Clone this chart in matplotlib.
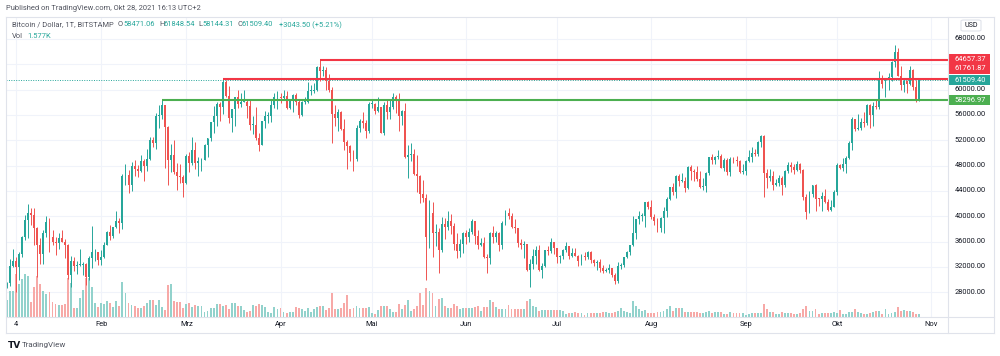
import matplotlib
matplotlib.use('Agg')
import matplotlib.pyplot as plt
from matplotlib.patches import Rectangle, FancyBboxPatch
from matplotlib.lines import Line2D
from matplotlib.transforms import blended_transform_factory, offset_copy
import numpy as np

plt.rcParams['font.family'] = ['Roboto', 'DejaVu Sans']

# ---------------- data (BTC/USD daily, values in thousand USD) ----------------
start_date = '2021-01-01'   # day index 0
opens = [
    # Jan
    29.0, 29.4, 32.2, 33.0, 32.0, 34.0, 36.8, 39.4, 40.6, 40.2, 38.2, 35.5, 34.0, 37.3, 39.1, 36.8,
    36.0, 35.8, 36.6, 35.9, 35.5, 30.8, 33.0, 32.1, 32.3, 32.3, 32.5, 30.4, 33.4, 34.3, 34.3,
    # Feb
    33.1, 33.5, 35.5, 37.6, 36.9, 38.3, 39.2, 38.9, 46.4, 46.5, 44.9, 47.9, 47.4, 47.2, 48.7, 47.9,
    49.1, 52.1, 51.6, 55.9, 56.0, 57.5, 54.1, 48.9, 49.7, 47.0, 46.3, 46.2,
    # Mar
    45.2, 49.6, 48.4, 50.4, 48.4, 48.8, 48.9, 51.2, 52.3, 54.9, 55.9, 57.8, 57.2, 61.2, 59.0, 55.6,
    56.9, 58.9, 57.7, 58.1, 58.1, 57.4, 54.4, 54.4, 52.3, 51.3, 55.1, 55.8, 55.8, 57.6, 58.8,
    # Apr
    58.8, 58.7, 59.0, 57.1, 58.2, 59.1, 58.0, 56.0, 58.1, 58.1, 59.8, 59.8, 59.9, 63.5, 62.9, 63.1,
    61.3, 60.0, 56.1, 55.6, 56.4, 53.8, 51.7, 51.1, 50.0, 49.0, 54.0, 55.0, 54.8, 53.5,
    # May
    57.7, 57.8, 56.6, 57.2, 53.2, 57.5, 56.4, 57.3, 58.8, 58.2, 55.8, 56.7, 49.4, 49.7, 49.9, 46.7,
    46.4, 43.5, 42.9, 36.7, 40.6, 37.3, 37.5, 34.7, 38.8, 38.3, 39.3, 38.5, 35.7, 34.6, 35.7,
    # Jun
    37.3, 36.7, 37.6, 39.2, 36.9, 35.5, 35.8, 33.6, 33.4, 37.4, 36.7, 37.3, 35.5, 39.0, 40.5, 40.1,
    38.3, 38.1, 35.8, 35.5, 35.6, 31.6, 32.5, 33.7, 34.7, 31.6, 32.2, 34.7, 34.5, 35.9,
    # Jul
    35.0, 33.5, 33.8, 34.7, 35.3, 33.7, 34.2, 33.8, 32.9, 33.8, 33.5, 34.3, 33.1, 32.7, 32.8, 31.8,
    31.4, 31.5, 31.8, 30.8, 29.8, 32.1, 32.3, 33.6, 34.3, 35.4, 37.3, 39.5, 40.0, 40.0, 42.2,
    # Aug
    41.5, 39.9, 39.2, 38.2, 39.7, 40.9, 42.8, 44.6, 43.8, 46.3, 45.6, 45.6, 44.4, 47.8, 47.1, 47.0,
    45.9, 44.7, 44.8, 46.8, 49.3, 48.9, 49.3, 49.5, 47.7, 48.9, 47.0, 49.1, 48.9, 48.8, 47.0,
    # Sep
    47.1, 48.8, 49.3, 50.0, 49.9, 51.8, 52.7, 46.9, 46.1, 46.4, 44.9, 45.2, 46.1, 44.9, 47.1, 48.1,
    47.8, 47.3, 48.3, 47.3, 43.0, 40.7, 43.6, 44.9, 42.8, 42.7, 43.2, 42.2, 41.0, 41.5,
    # Oct
    43.8, 48.1, 47.7, 48.2, 49.2, 51.5, 55.3, 53.8, 53.9, 54.9, 54.7, 57.5, 56.0, 57.4, 57.3, 61.7,
    60.9, 61.5, 62.0, 64.3, 66.0, 62.2, 60.7, 61.3, 60.9, 63.1, 60.4, 58.47106,
]
highs = [
    29.6, 33.3, 34.8, 33.6, 34.4, 36.9, 40.2, 41.9, 41.3, 41.3, 38.3, 36.6, 37.8, 40.0, 39.7, 37.9,
    36.8, 37.3, 37.8, 36.4, 35.6, 33.8, 33.5, 32.9, 34.9, 32.8, 32.6, 33.8, 38.5, 34.9, 34.3,
    34.7, 35.9, 37.7, 38.7, 38.3, 40.9, 39.7, 46.7, 48.2, 47.3, 48.6, 48.9, 48.1, 49.7, 49.0, 50.6,
    52.6, 52.5, 56.3, 57.5, 58.3, 57.5, 54.2, 51.4, 52.0, 48.4, 48.3, 46.6,
    49.8, 50.2, 52.6, 51.8, 49.4, 49.2, 51.4, 52.4, 54.9, 57.4, 58.1, 58.0, 61.76, 61.5, 60.6, 56.9,
    58.9, 60.0, 59.5, 59.9, 58.5, 58.4, 55.8, 57.2, 53.2, 55.1, 56.6, 56.5, 58.4, 59.4, 59.8,
    59.5, 60.0, 59.8, 58.5, 59.3, 59.5, 58.6, 58.2, 58.9, 61.2, 60.7, 61.1, 63.8, 64.66, 63.8, 63.5,
    62.5, 60.4, 57.6, 57.0, 56.7, 55.4, 52.1, 51.2, 50.5, 54.4, 55.4, 56.4, 55.2, 58.0,
    58.4, 57.9, 58.9, 57.2, 58.0, 58.3, 58.6, 59.4, 59.2, 59.5, 56.8, 57.9, 51.3, 51.5, 50.6, 49.7,
    46.6, 45.8, 43.5, 42.5, 42.2, 38.8, 38.2, 39.9, 39.8, 40.8, 40.4, 38.9, 37.3, 36.4, 37.5,
    37.9, 38.2, 39.5, 39.3, 37.9, 36.5, 36.8, 34.0, 37.5, 38.4, 37.7, 37.5, 39.3, 41.0, 41.3, 40.5,
    39.5, 38.2, 36.4, 36.1, 35.7, 33.3, 34.8, 35.3, 35.5, 32.7, 34.7, 35.3, 36.6, 36.0,
    35.0, 33.9, 34.9, 35.9, 35.3, 35.0, 35.0, 33.9, 34.1, 34.3, 34.6, 34.6, 33.3, 33.1, 33.2, 32.3,
    31.9, 32.4, 31.9, 31.0, 32.8, 32.6, 33.6, 34.5, 35.4, 40.0, 39.5, 40.9, 40.6, 42.3, 42.4,
    42.6, 40.4, 39.8, 39.9, 41.4, 43.0, 44.7, 45.3, 46.5, 46.7, 46.8, 46.2, 47.9, 48.1, 47.4, 48.0,
    47.1, 46.0, 47.0, 49.4, 49.8, 49.5, 50.5, 49.9, 49.2, 49.2, 49.3, 49.3, 49.6, 48.9, 48.3,
    48.9, 50.4, 51.0, 50.6, 51.9, 52.9, 52.9, 47.4, 47.4, 47.1, 45.9, 46.5, 46.3, 47.3, 48.5, 48.5,
    48.2, 48.8, 48.4, 47.4, 43.6, 44.0, 44.9, 45.1, 42.9, 43.9, 44.3, 42.8, 42.6, 44.1,
    48.4, 48.3, 49.2, 49.5, 51.9, 55.7, 55.3, 56.1, 55.5, 56.5, 57.8, 57.7, 58.0, 58.5, 62.9, 62.3,
    61.7, 62.6, 64.5, 67.0, 66.6, 63.7, 61.7, 61.5, 63.7, 63.3, 61.5, 61.84854,
]
lows = [
    28.7, 29.0, 32.0, 28.1, 29.9, 33.5, 36.3, 36.5, 38.7, 35.4, 30.4, 32.5, 32.4, 36.7, 34.4, 35.4,
    33.9, 34.9, 35.9, 33.4, 30.1, 28.9, 31.4, 30.9, 32.1, 30.8, 29.2, 29.9, 31.9, 32.9, 32.3,
    32.3, 33.4, 35.4, 36.2, 36.6, 38.2, 37.4, 38.0, 45.0, 43.7, 44.0, 46.3, 46.2, 47.0, 45.6, 47.1,
    48.9, 50.9, 50.7, 53.9, 55.4, 47.6, 45.0, 47.0, 46.7, 44.1, 45.3, 43.0,
    45.1, 47.0, 48.1, 47.5, 46.3, 47.1, 48.9, 49.3, 51.9, 53.1, 54.3, 55.0, 56.1, 58.9, 54.7, 53.3,
    54.2, 57.1, 57.2, 58.0, 55.5, 53.7, 53.0, 52.0, 50.3, 51.3, 54.0, 54.7, 54.9, 57.1, 56.9,
    57.9, 58.5, 56.9, 57.0, 56.5, 57.6, 55.5, 55.9, 57.7, 57.9, 59.2, 59.4, 59.8, 61.3, 62.1, 60.0,
    59.6, 51.5, 54.2, 53.5, 53.7, 50.5, 47.5, 48.8, 47.1, 48.8, 53.3, 53.9, 52.4, 53.1,
    57.1, 56.1, 56.5, 53.1, 52.9, 55.3, 55.3, 56.9, 56.3, 53.4, 54.4, 49.2, 46.0, 48.8, 46.6, 43.8,
    42.1, 42.3, 30.0, 35.0, 33.5, 35.3, 31.1, 34.4, 36.4, 37.8, 37.2, 34.7, 33.4, 33.5, 34.2,
    35.7, 35.9, 37.2, 35.6, 34.8, 35.3, 33.4, 31.0, 32.4, 35.8, 35.9, 34.6, 34.8, 38.7, 39.5, 38.1,
    37.4, 35.2, 34.8, 33.4, 31.3, 28.8, 31.7, 32.4, 31.3, 30.2, 32.0, 33.9, 34.2, 34.0,
    32.7, 32.7, 33.3, 34.3, 33.2, 33.5, 33.8, 32.2, 32.3, 33.1, 33.3, 32.7, 32.2, 31.6, 31.2, 31.1,
    31.2, 31.1, 30.4, 29.3, 29.5, 31.7, 32.0, 33.4, 33.9, 35.3, 36.4, 38.8, 39.3, 38.3, 41.1,
    39.5, 38.7, 37.6, 37.5, 37.3, 39.9, 42.5, 43.3, 42.9, 44.8, 45.4, 43.8, 44.3, 45.8, 45.6, 45.5,
    44.4, 44.2, 43.9, 46.6, 48.3, 48.2, 49.0, 47.6, 47.2, 46.5, 46.4, 48.4, 48.0, 46.9, 46.7,
    46.6, 48.6, 48.6, 49.5, 49.5, 50.9, 43.0, 44.5, 45.6, 44.2, 44.8, 44.8, 43.4, 44.7, 46.8, 47.0,
    46.7, 47.1, 46.9, 42.5, 39.6, 40.6, 43.1, 40.9, 41.7, 40.8, 42.1, 40.9, 40.8, 41.4,
    43.3, 47.4, 47.1, 46.9, 49.1, 50.4, 53.4, 53.6, 53.7, 54.1, 54.4, 53.9, 54.2, 56.9, 56.9, 60.2,
    58.9, 60.0, 61.3, 63.5, 62.1, 60.0, 59.7, 59.5, 60.7, 59.9, 58.1, 58.14431,
]
closes = [
    29.4, 32.2, 33.0, 32.0, 34.0, 36.8, 39.4, 40.6, 40.2, 38.2, 35.5, 34.0, 37.3, 39.1, 36.8, 36.0,
    35.8, 36.6, 35.9, 35.5, 30.8, 33.0, 32.1, 32.3, 32.3, 32.5, 30.4, 33.4, 34.3, 34.3, 33.1,
    33.5, 35.5, 37.6, 36.9, 38.3, 39.2, 38.9, 46.4, 46.5, 44.9, 47.9, 47.4, 47.2, 48.7, 47.9, 49.1,
    52.1, 51.6, 55.9, 56.0, 57.5, 54.1, 48.9, 49.7, 47.0, 46.3, 46.2, 45.2,
    49.6, 48.4, 50.4, 48.4, 48.8, 48.9, 51.2, 52.3, 54.9, 55.9, 57.8, 57.2, 61.2, 59.0, 55.6, 56.9,
    58.9, 57.7, 58.1, 58.1, 57.4, 54.4, 54.4, 52.3, 51.3, 55.1, 55.8, 55.8, 57.6, 58.8, 58.8,
    58.7, 59.0, 57.1, 58.2, 59.1, 58.0, 56.0, 58.1, 58.1, 59.8, 59.8, 59.9, 63.5, 62.9, 63.1, 61.3,
    60.0, 56.1, 55.6, 56.4, 53.8, 51.7, 51.1, 50.0, 49.0, 54.0, 55.0, 54.8, 53.5, 57.7,
    57.8, 56.6, 57.2, 53.2, 57.5, 56.4, 57.3, 58.8, 58.2, 55.8, 56.7, 49.4, 49.7, 49.9, 46.7, 46.4,
    43.5, 42.9, 36.7, 40.6, 37.3, 37.5, 34.7, 38.8, 38.3, 39.3, 38.5, 35.7, 34.6, 35.7, 37.3,
    36.7, 37.6, 39.2, 36.9, 35.5, 35.8, 33.6, 33.4, 37.4, 36.7, 37.3, 35.5, 39.0, 40.5, 40.1, 38.3,
    38.1, 35.8, 35.5, 35.6, 31.6, 32.5, 33.7, 34.7, 31.6, 32.2, 34.7, 34.5, 35.9, 35.0,
    33.5, 33.8, 34.7, 35.3, 33.7, 34.2, 33.8, 32.9, 33.8, 33.5, 34.3, 33.1, 32.7, 32.8, 31.8, 31.4,
    31.5, 31.8, 30.8, 29.8, 32.1, 32.3, 33.6, 34.3, 35.4, 37.3, 39.5, 40.0, 40.0, 42.2, 41.5,
    39.9, 39.2, 38.2, 39.7, 40.9, 42.8, 44.6, 43.8, 46.3, 45.6, 45.6, 44.4, 47.8, 47.1, 47.0, 45.9,
    44.7, 44.8, 46.8, 49.3, 48.9, 49.3, 49.5, 47.7, 48.9, 47.0, 49.1, 48.9, 48.8, 47.0, 47.1,
    48.8, 49.3, 50.0, 49.9, 51.8, 52.7, 46.9, 46.1, 46.4, 44.9, 45.2, 46.1, 44.9, 47.1, 48.1, 47.8,
    47.3, 48.3, 47.3, 43.0, 40.7, 43.6, 44.9, 42.8, 42.7, 43.2, 42.2, 41.0, 41.5, 43.8,
    48.1, 47.7, 48.2, 49.2, 51.5, 55.3, 53.8, 53.9, 54.9, 54.7, 57.5, 56.0, 57.4, 57.3, 61.7, 60.9,
    61.5, 62.0, 64.3, 66.0, 62.2, 60.7, 61.3, 60.9, 63.1, 60.4, 58.5, 61.5094,
]
# volume, thousand BTC
volumes = [
    8.5, 13, 13, 21.5, 16.5, 19, 21.5, 20.5, 7.5, 15, 20.5, 16.5, 13, 11.5, 12.5, 7.5,
    6.5, 6, 6, 6.5, 19.5, 17, 4.5, 4.5, 9.5, 13.5, 19.5, 19.5, 15, 7, 5,
    7, 6.5, 8, 7, 5, 8, 5.5, 17.5, 12, 7, 6, 5.5, 4.5, 4.5, 5.5, 7,
    8.5, 8.5, 6, 8.5, 5, 3.5, 16, 16.5, 8, 7.5, 7.5, 4.5,
    6.5, 7, 5, 6, 5.5, 5.5, 2.5, 3, 4.5, 4.5, 6.5, 6.5, 5.5, 6, 4, 7,
    7, 5.5, 5.5, 3.5, 2.5, 3, 6, 5.5, 6.5, 6, 5, 2.5, 2, 5, 4,
    4.5, 2.5, 2, 2.5, 2.5, 5, 4.5, 4, 3, 4.5, 2.5, 4, 5, 5.5, 5.5, 3.5,
    4.5, 12, 4, 4, 4.5, 7, 11, 4, 4.5, 5.5, 4.5, 4.5, 4.5, 5,
    2, 1.5, 3.5, 5.5, 5.5, 5.5, 4, 2.5, 2.5, 6.5, 4, 6, 8.5, 3, 4, 5.5,
    12, 6, 14.5, 13, 12, 5.5, 9, 9.5, 5.5, 4.5, 4.5, 6.5, 5.5, 4, 4.5,
    4.5, 4.5, 4.5, 5, 5.5, 3, 5, 5, 8.5, 7.5, 5, 4, 4, 4, 6, 4,
    4, 4, 4, 4, 8, 9, 5.5, 5, 3, 3.5, 3.5, 3.5, 3.5, 3.5,
    3.5, 3.5, 3, 1.5, 2, 2, 2.5, 2, 2, 1, 2, 2, 2, 2, 2, 2.5,
    2.5, 2, 2, 2.5, 3, 4.5, 3, 2.5, 2, 8, 5.5, 4, 3, 3.5, 2,
    2, 2, 2.5, 2.5, 3, 4, 5.5, 3, 4.5, 4.5, 4.5, 2.5, 2.5, 2.5, 2.5, 2.5,
    2, 2, 2.5, 3, 2, 2.5, 2.5, 2.5, 1.5, 1.5, 2.5, 2, 2, 2, 2,
    1, 1.5, 2, 2, 2, 2, 6.5, 4, 2.5, 2.5, 1.5, 1.5, 2.5, 2, 2, 2,
    1.5, 1.5, 2, 4, 5.5, 3, 3, 4, 1.5, 2, 2, 2, 2, 2.5,
    2, 3.5, 1.5, 1.5, 2.5, 2.5, 4, 2.5, 2, 1.5, 1.5, 2, 2.5, 3, 3, 1.5,
    4, 1.5, 2, 2.5, 5, 3, 3.5, 3, 3, 2.5, 1.5, 1.577,
]

# horizontal levels: (price, start day index, kind)
level_prices = [64657.37, 61761.87, 58296.97]
level_starts = [103, 71, 51]          # Apr 14, Mar 13, Feb 21
level_kinds = ['res', 'res', 'sup']
last_price = 61509.40
change_text = '+3043.50 (+5.21%)'

price_ticks = [28000, 32000, 36000, 40000, 44000, 48000, 52000, 56000, 60000, 64000, 68000]
month_ticks = [3, 31, 59, 90, 120, 151, 181, 212, 243, 273, 304]
month_labels = ['4', 'Feb', 'Mrz', 'Apr', 'Mai', 'Jun', 'Jul', 'Aug', 'Sep', 'Okt', 'Nov']

# ---------------- style ----------------
UP, DN = '#26a69a', '#ef5350'
VUP, VDN = '#92d2cc', '#f7a9a7'
RED_LINE, GREEN_LINE = '#f23645', '#4caf50'
GRID = '#f0f3fa'
BORDER = '#e0e3eb'
TXT = '#131722'
GRAY = '#50535e'
FS = 5.4

W, H = 1000, 356
fig = plt.figure(figsize=(10, 3.56), dpi=100)
fig.patch.set_facecolor('white')

def fx(x): return x / W
def fy(y): return 1 - y / H

PL, PR, PT, PB = 6, 948, 17, 317
rect = [fx(PL), fy(PB), (PR - PL) / W, (PB - PT) / H]

o = np.array(opens) * 1000
h = np.array(highs) * 1000
l = np.array(lows) * 1000
c = np.array(closes) * 1000
v = np.array(volumes)
x = np.arange(len(c))
up = c >= o

XLIM = ((PL - 6.9) / 3.04, (PR - 6.9) / 3.04)
YLIM = (24100, 71474)

axg = fig.add_axes(rect)
axv = fig.add_axes(rect)
ax = fig.add_axes(rect)
for a in (axg, axv, ax):
    a.set_xlim(*XLIM)
    a.patch.set_alpha(0)
    for s in a.spines.values():
        s.set_visible(False)
    a.set_xticks([]); a.set_yticks([])
axg.set_ylim(*YLIM)
ax.set_ylim(*YLIM)
axv.set_ylim(0, 150)

# grid
for p in price_ticks:
    axg.axhline(p, color=GRID, lw=0.8, zorder=0)
for m in month_ticks:
    axg.axvline(m, color=GRID, lw=0.8, zorder=0)

# volume
axv.bar(x, v, width=0.62, color=np.where(up, VUP, VDN), linewidth=0)

# candles
cols = np.where(up, UP, DN)
ax.vlines(x, l, h, colors=cols, lw=0.7, zorder=2)
body_lo = np.minimum(o, c)
body_h = np.maximum(np.abs(c - o), 130)
ax.bar(x, body_h, bottom=body_lo, width=0.62, color=cols, linewidth=0, zorder=3)

# last price dotted line
ax.axhline(last_price, color=UP, lw=0.7, ls=(0, (1, 1.5)), zorder=1)

# level lines
for p, s, k in zip(level_prices, level_starts, level_kinds):
    col = RED_LINE if k == 'res' else GREEN_LINE
    ax.plot([s, XLIM[1]], [p, p], color=col, lw=1.5, solid_capstyle='butt', zorder=4)

# ---------------- frame ----------------
def hline(y, x0, x1):
    fig.add_artist(Line2D([fx(x0), fx(x1)], [fy(y), fy(y)], color=BORDER, lw=0.8))
def vline(xp, y0, y1):
    fig.add_artist(Line2D([fx(xp), fx(xp)], [fy(y0), fy(y1)], color=BORDER, lw=0.8))
hline(PT, PL, 994); hline(PB, PL, 994); hline(333, PL, 994)
vline(PL, PT, 333); vline(994, PT, 333); vline(PR, PT, 333)

# price axis labels
tr = blended_transform_factory(ax.transAxes, ax.transData)
xr = 1 + (970 - PR) / (PR - PL)
for p in price_ticks:
    if p == 64000:
        continue
    ax.text(xr, p, f'{p:.2f}', transform=tr, ha='center', va='center', fontsize=FS,
            color=TXT, clip_on=False)

# price tags
def tag(price, color, dy_px=0):
    t = offset_copy(tr, fig=fig, x=0, y=dy_px, units='dots')
    hh = 5 / 0.0063325
    x0 = 1 + 1 / (PR - PL)
    r = Rectangle((x0, price - hh), (990 - PR - 1) / (PR - PL), 2 * hh, transform=t,
                  facecolor=color, edgecolor='none', clip_on=False, zorder=10)
    ax.add_patch(r)
    ax.text(xr, price, f'{price:.2f}', transform=t, ha='center', va='center', fontsize=FS,
            color='white', clip_on=False, zorder=11)

tag(level_prices[0], RED_LINE, dy_px=1)
tag(level_prices[1], RED_LINE, dy_px=10)
tag(last_price, UP)
tag(level_prices[2], GREEN_LINE)

# time axis labels
trx = blended_transform_factory(ax.transData, fig.transFigure)
for m, lab in zip(month_ticks, month_labels):
    ax.text(m, fy(325), lab, transform=trx, ha='center', va='center', fontsize=FS,
            color=TXT, clip_on=False)

# USD box
fig.add_artist(FancyBboxPatch((fx(961), fy(31)), fx(20), 11 / H,
                              boxstyle='round,pad=0,rounding_size=0.003',
                              fc='white', ec=BORDER, lw=0.8, transform=fig.transFigure))
fig.text(fx(971), fy(25.5), 'USD', ha='center', va='center', fontsize=FS - 0.3, color=TXT)

# header texts
fig.text(fx(6), fy(8), 'Published on TradingView.com, Okt 28, 2021 16:13 UTC+2',
         ha='left', va='center', fontsize=FS, color=GRAY)
row1 = fy(25)
fig.text(fx(12), row1, 'Bitcoin / Dollar, 1T, BITSTAMP', ha='left', va='center', fontsize=FS, color=GRAY)
for lx, letter, vx, val in [(118, 'O', 123, f'{opens[-1]*1000:.2f}'),
                            (159, 'H', 164, f'{highs[-1]*1000:.2f}'),
                            (198, 'L', 202, f'{lows[-1]*1000:.2f}'),
                            (237, 'C', 242, f'{closes[-1]*1000:.2f}')]:
    fig.text(fx(lx), row1, letter, ha='left', va='center', fontsize=FS, color=GRAY)
    fig.text(fx(vx), row1, val, ha='left', va='center', fontsize=FS, color=UP)
fig.text(fx(279), row1, change_text, ha='left', va='center', fontsize=FS, color=UP)
row2 = fy(36.5)
fig.text(fx(12), row2, 'Vol', ha='left', va='center', fontsize=FS, color=GRAY)
fig.text(fx(27), row2, f'{volumes[-1]:.3f}K', ha='left', va='center', fontsize=FS, color=UP)

# footer logo
fig.text(fx(8), fy(345), 'TV', ha='left', va='center', fontsize=6.5, color=TXT,
         fontweight='bold', family=['DejaVu Sans'])
fig.text(fx(22), fy(345), 'TradingView', ha='left', va='center', fontsize=FS + 0.4, color=GRAY)

fig.savefig('out.png', dpi=100, facecolor='white')
